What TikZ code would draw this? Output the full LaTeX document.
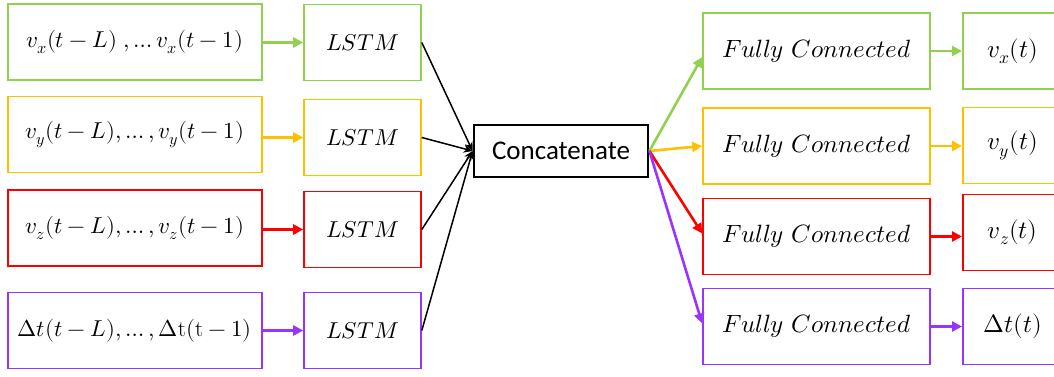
\documentclass[tikz,border=0pt]{standalone}
\usepackage{fontspec}
\usepackage{unicode-math}
\setmathfont{Latin Modern Math}
\newfontfamily\calibri{Carlito}
\usetikzlibrary{arrows.meta,calc}
\definecolor{cgreen}{HTML}{92D050}
\definecolor{cyellow}{HTML}{FFC000}
\definecolor{cred}{HTML}{FF0000}
\definecolor{cpurple}{HTML}{9933FF}
\tikzset{
  box/.style={draw, line width=1.6pt, inner sep=0pt, minimum height=76pt, font=\fontsize{23}{27}\selectfont},
  inbox/.style={box, minimum width=254pt},
  lstmbox/.style={box, minimum width=117pt},
  fcbox/.style={box, minimum width=227pt, font=\fontsize{25}{30}\selectfont},
  outbox/.style={box, minimum width=100pt, anchor=west, font=\fontsize{25}{30}\selectfont},
  catbox/.style={draw=black, line width=2.8pt, inner sep=0pt, minimum width=174pt, minimum height=52pt, font=\calibri\fontsize{27}{32}\selectfont},
  carrow/.style={line width=2.6pt, -{Triangle[length=10pt,width=10pt]}},
  karrow/.style={line width=1.5pt, black, -{Stealth[length=9pt,width=8pt]}}
}
\begin{document}
\begin{tikzpicture}[x=1pt,y=-1pt]
\useasboundingbox[fill=white] (0,0) rectangle (1054,376);
\clip (0,0) rectangle (1054,376);
% inputs
\node[inbox, draw=cgreen]  (in1) at (134.75,42)  {$v_x(t-L)\;,\ldots v_x(t-1)$};
\node[inbox, draw=cyellow] (in2) at (134.75,134.5) {$v_y(t-L),\ldots,v_y(t-1)$};
\node[inbox, draw=cred]    (in3) at (134.75,228) {$v_z(t-L),\ldots,v_z(t-1)$};
\node[inbox, draw=cpurple] (in4) at (134.75,330.5) {$\Delta t(t-L),\ldots,\Delta\mathrm{t}(\mathrm{t}-1)$};
% lstm
\node[lstmbox, draw=cgreen]  (l1) at (362.5,42.5)  {$LSTM$};
\node[lstmbox, draw=cyellow] (l2) at (362.5,137.5) {$LSTM$};
\node[lstmbox, draw=cred]    (l3) at (362.5,229.5) {$LSTM$};
\node[lstmbox, draw=cpurple] (l4) at (362.5,330.5) {$LSTM$};
% concat
\node[catbox] (cat) at (561,151) {Concatenate};
% fully connected
\node[fcbox, draw=cgreen]  (f1) at (816.5,51)    {$Fully\ Connected$};
\node[fcbox, draw=cyellow] (f2) at (816.5,146)   {$Fully\ Connected$};
\node[fcbox, draw=cred]    (f3) at (816.5,236.5) {$Fully\ Connected$};
\node[fcbox, draw=cpurple] (f4) at (816.5,326.5) {$Fully\ Connected$};
% outputs
\node[outbox, draw=cgreen]  (o1) at (962,51)    {$v_x(t)$\hspace{14pt}};
\node[outbox, draw=cyellow] (o2) at (962,145.5) {$v_y(t)$\hspace{14pt}};
\node[outbox, draw=cred]    (o3) at (962,232.5) {$v_z(t)$\hspace{14pt}};
\node[outbox, draw=cpurple] (o4) at (962,326.5) {$\Delta t(t)$\hspace{14pt}};
% input -> lstm
\draw[carrow, cgreen]  (in1.east |- l1.west) -- (l1.west);
\draw[carrow, cyellow] (in2.east |- l2.west) -- (l2.west);
\draw[carrow, cred]    (in3.east |- l3.west) -- (l3.west);
\draw[carrow, cpurple] (in4.east |- l4.west) -- (l4.west);
% lstm -> concat
\foreach \i in {1,2,3,4} \draw[karrow] (l\i.east) -- (cat.west);
% concat -> fc
\draw[carrow, cgreen]  (cat.east) -- ([yshift=-6pt]f1.west);
\draw[carrow, cyellow] (cat.east) -- (f2.west);
\draw[carrow, cred]    (cat.east) -- ([yshift=3pt]f3.west);
\draw[carrow, cpurple] (cat.east) -- ([yshift=3pt]f4.west);
% fc -> out
\draw[carrow, cgreen]  (f1.east) -- (o1.west |- f1.east);
\draw[carrow, cyellow] (f2.east) -- (o2.west |- f2.east);
\draw[carrow, cred]    (f3.east) -- (o3.west |- f3.east);
\draw[carrow, cpurple] (f4.east) -- (o4.west |- f4.east);
\end{tikzpicture}
\end{document}
